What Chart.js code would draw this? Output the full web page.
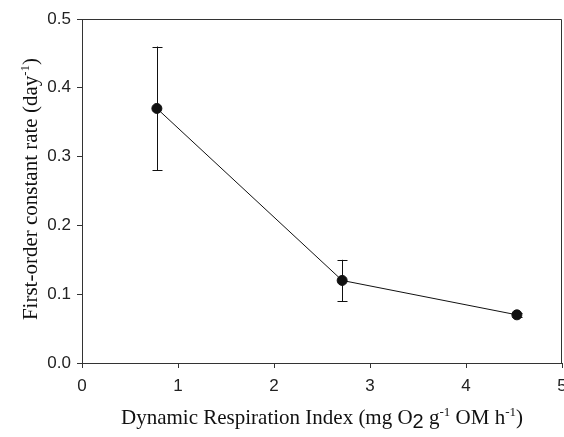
<!DOCTYPE html>
<html>
<head>
<meta charset="utf-8">
<script src="https://cdn.jsdelivr.net/npm/chart.js@4"></script>
<style>
  html, body { margin: 0; padding: 0; background: #fff; }
  #wrap { width: 564px; height: 437px; }
</style>
</head>
<body>
<div id="wrap"><canvas id="chart" width="564" height="437"></canvas></div>
<script>
// --- data ---
const driValues = [0.78, 2.71, 4.53];
const rateValues = [0.37, 0.12, 0.07];
const rateErrors = [0.09, 0.03, 0.003];
const xTicks = [0, 1, 2, 3, 4, 5];
const yTicks = [0.0, 0.1, 0.2, 0.3, 0.4, 0.5];

const axisColor = '#333';
const tickFont = { family: 'Liberation Sans, Arial, sans-serif', size: 17 };
const titleFamily = 'Liberation Serif, Times New Roman, serif';

// axis titles with sub/superscripts: [text, kind]
const xTitle = [['Dynamic Respiration Index (mg O', ''], ['2', 'sub'], [' g', ''], ['-1', 'sup'], [' OM h', ''], ['-1', 'sup'], [')', '']];
const yTitle = [['First-order constant rate (day', ''], ['-1', 'sup'], [')', '']];

function fontFor(kind, size) {
    if (kind === 'sup') return Math.round(size * 0.62) + 'px ' + titleFamily;
    if (kind === 'sub') return Math.round(size * 0.95) + 'px ' + tickFont.family;
    return size + 'px ' + titleFamily;
}

// draws parts centred on cx, sitting on the baseline at by
function drawRich(ctx, parts, cx, by, size) {
    let total = 0;
    parts.forEach(([t, k]) => {
        ctx.font = fontFor(k, size);
        total += ctx.measureText(t).width;
    });
    let x = cx - total / 2;
    ctx.textBaseline = 'alphabetic';
    ctx.textAlign = 'left';
    parts.forEach(([t, k]) => {
        ctx.font = fontFor(k, size);
        const dy = k === 'sup' ? -size * 0.36 : k === 'sub' ? size * 0.2 : 0;
        ctx.fillText(t, x, by + dy);
        x += ctx.measureText(t).width;
    });
}

const extrasPlugin = {
    id: 'extras',
    afterDatasetsDraw(chart) {
        const { ctx, chartArea: a, scales: { x, y } } = chart;
        ctx.save();
        // error bars
        ctx.strokeStyle = '#111';
        ctx.lineWidth = 1;
        driValues.forEach((v, i) => {
            const px = Math.round(x.getPixelForValue(v)) + 0.5;
            const top = y.getPixelForValue(rateValues[i] + rateErrors[i]);
            const bot = y.getPixelForValue(rateValues[i] - rateErrors[i]);
            ctx.beginPath();
            ctx.moveTo(px, top); ctx.lineTo(px, bot);
            ctx.moveTo(px - 5, Math.round(top) + 0.5); ctx.lineTo(px + 5, Math.round(top) + 0.5);
            ctx.moveTo(px - 5, Math.round(bot) + 0.5); ctx.lineTo(px + 5, Math.round(bot) + 0.5);
            ctx.stroke();
        });
        // frame top and right
        ctx.strokeStyle = axisColor;
        ctx.beginPath();
        ctx.moveTo(a.left, Math.round(a.top) + 0.5);
        ctx.lineTo(Math.round(a.right) - 0.5, Math.round(a.top) + 0.5);
        ctx.lineTo(Math.round(a.right) - 0.5, a.bottom);
        ctx.stroke();
        // titles
        ctx.fillStyle = '#111';
        drawRich(ctx, xTitle, (a.left + a.right) / 2, 424, 21);
        ctx.translate(37, 189);
        ctx.rotate(-Math.PI / 2);
        drawRich(ctx, yTitle, 0, 0, 21);
        ctx.restore();
    }
};

new Chart(document.getElementById('chart'), {
    type: 'scatter',
    data: {
        datasets: [{
            data: driValues.map((v, i) => ({ x: v, y: rateValues[i] })),
            showLine: true,
            borderColor: '#111',
            borderWidth: 1,
            backgroundColor: '#111',
            pointRadius: 5,
            pointHoverRadius: 5
        }]
    },
    options: {
        responsive: false,
        animation: false,
        layout: { autoPadding: false, padding: { top: 19, right: 2, left: 0, bottom: 0 } },
        plugins: { legend: { display: false }, tooltip: { enabled: false } },
        scales: {
            x: {
                type: 'linear', min: 0, max: 5,
                afterBuildTicks: s => { s.ticks = xTicks.map(v => ({ value: v })); },
                afterFit: s => { s.height = 74; s.paddingLeft = 0; s.paddingRight = 0; },
                ticks: { color: '#222', font: tickFont, padding: 8, maxRotation: 0 },
                grid: { drawOnChartArea: false, tickLength: 5, color: axisColor },
                border: { color: axisColor, width: 1 }
            },
            y: {
                type: 'linear', min: 0, max: 0.5,
                afterBuildTicks: s => { s.ticks = yTicks.map(v => ({ value: v })); },
                afterFit: s => { s.width = 82; s.paddingTop = 0; s.paddingBottom = 0; },
                ticks: { color: '#222', font: tickFont, padding: 6, callback: v => v.toFixed(1) },
                grid: { drawOnChartArea: false, tickLength: 5, color: axisColor },
                border: { color: axisColor, width: 1 }
            }
        }
    },
    plugins: [extrasPlugin]
});
</script>
</body>
</html>
